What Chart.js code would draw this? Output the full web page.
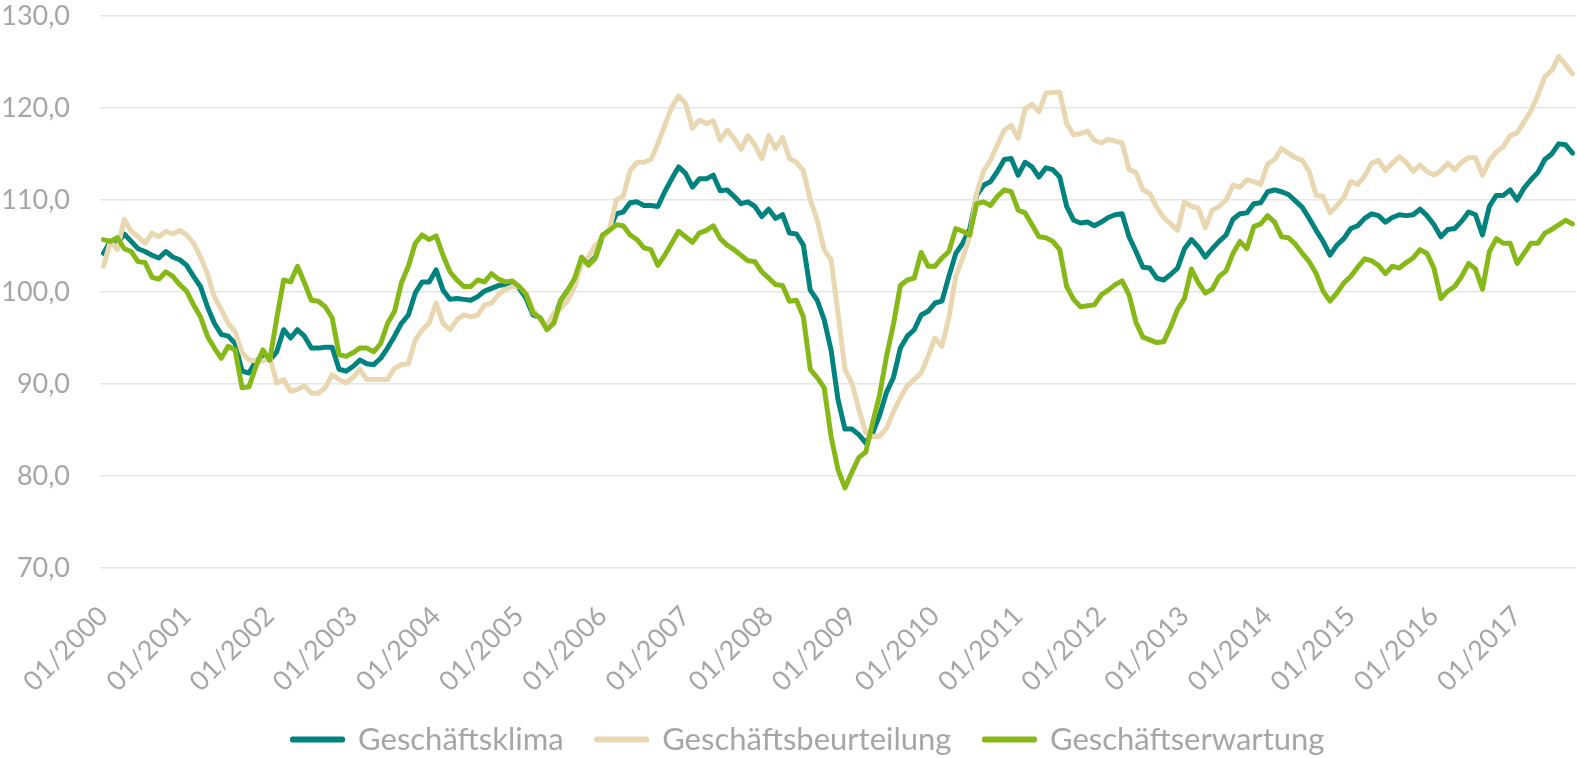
<!DOCTYPE html>
<html>
<head>
<meta charset="utf-8">
<script src="https://cdn.jsdelivr.net/npm/chart.js@4"></script>
<style>
  html, body { margin: 0; padding: 0; background: #ffffff; }
  #wrap { width: 1577px; height: 758px; position: relative; overflow: hidden; }
</style>
</head>
<body>
<div id="wrap"><canvas id="c" width="1577" height="758"></canvas></div>
<script>
// Monthly categories 01/2000 .. 09/2017
const startYear = 2000;
const monthCount = 213;
const categories = [];
for (let k = 0; k < monthCount; k++) {
  const y = startYear + Math.floor(k / 12);
  const m = (k % 12) + 1;
  categories.push((m < 10 ? '0' : '') + m + '/' + y);
}

const seriesNames = ['Geschäftsklima', 'Geschäftsbeurteilung', 'Geschäftserwartung'];

const geschaeftsklima = [
104.2,105.5,105.3,106.3,105.5,104.7,104.4,104.0,103.7,104.4,103.8,103.5,
102.9,101.7,100.6,98.4,96.6,95.4,95.2,94.4,91.4,91.2,92.5,93.0,
92.6,93.5,95.9,95.0,95.9,95.2,93.9,93.9,94.0,94.0,91.6,91.4,
91.9,92.6,92.2,92.1,92.8,93.9,95.2,96.6,97.5,99.9,101.1,101.1,
102.4,100.2,99.2,99.3,99.2,99.1,99.5,100.1,100.4,100.7,100.8,101.0,
100.4,99.3,97.5,97.2,96.1,97.0,99.1,100.2,101.3,103.5,103.1,103.8,
106.0,106.7,108.5,108.7,109.7,109.8,109.4,109.4,109.3,110.9,112.3,113.6,
112.9,111.4,112.3,112.3,112.7,111.0,111.1,110.4,109.6,109.8,109.3,108.2,
109.0,108.0,108.4,106.4,106.3,105.1,100.2,99.1,97.0,93.7,88.3,85.1,
85.1,84.5,83.6,84.7,86.6,89.1,90.7,93.9,95.2,95.9,97.5,97.9,
98.8,99.0,101.7,104.2,105.3,106.8,110.5,111.6,112.0,113.1,114.4,114.5,
112.7,114.1,113.6,112.5,113.5,113.3,112.5,109.3,107.8,107.5,107.6,107.2,
107.6,108.1,108.4,108.5,106.0,104.4,102.7,102.6,101.5,101.3,101.9,102.6,
104.7,105.7,104.9,103.8,104.7,105.5,106.2,107.9,108.5,108.6,109.6,109.7,
110.9,111.1,110.9,110.6,109.9,109.2,108.0,106.7,105.5,104.0,105.1,105.8,
106.9,107.2,108.0,108.5,108.3,107.6,108.1,108.4,108.3,108.4,109.0,108.3,
107.3,106.0,106.8,106.9,107.7,108.7,108.4,106.2,109.3,110.5,110.5,111.1,
110.0,111.3,112.2,113.0,114.4,115.0,116.1,116.0,115.1
];

const geschaeftsbeurteilung = [
102.8,105.5,104.6,107.9,106.6,106.0,105.3,106.4,106.0,106.6,106.3,106.7,
106.2,105.3,103.8,102.0,99.5,98.1,96.6,95.7,93.4,92.6,92.5,92.5,
93.0,90.1,90.5,89.2,89.4,89.8,89.0,89.0,89.6,91.0,90.5,90.1,
90.7,91.6,90.5,90.5,90.5,90.5,91.7,92.1,92.2,94.8,95.9,96.6,
98.8,96.6,95.9,97.0,97.5,97.3,97.5,98.6,98.8,99.7,100.3,100.6,
100.6,99.9,98.1,97.0,96.4,97.7,98.2,99.1,100.6,103.1,103.8,105.1,
105.8,106.7,110.0,110.4,113.2,114.1,114.1,114.4,116.1,118.1,120.1,121.3,
120.5,117.8,118.7,118.3,118.6,116.5,117.6,116.7,115.5,117.0,116.0,114.5,
117.0,115.6,116.8,114.5,114.1,113.2,110.0,107.8,104.6,103.5,97.7,91.6,
90.1,87.3,84.7,84.3,84.3,85.2,87.0,88.5,89.8,90.5,91.2,93.0,
95.0,94.1,97.2,101.7,103.7,106.0,110.7,113.1,114.3,116.0,117.6,118.1,
116.7,119.9,120.4,119.6,121.6,121.7,121.7,118.3,117.1,117.2,117.5,116.5,
116.2,116.6,116.4,116.2,113.3,113.0,111.1,110.7,109.2,108.1,107.4,106.7,
109.8,109.3,109.1,107.0,108.9,109.3,110.0,111.6,111.4,112.2,112.0,111.7,
113.9,114.4,115.6,115.1,114.6,114.3,113.1,110.5,110.4,108.6,109.4,110.3,
112.0,111.7,112.6,114.0,114.3,113.2,114.0,114.7,114.1,113.1,113.8,113.1,
112.7,113.2,114.0,113.3,114.1,114.6,114.6,112.7,114.3,115.2,115.8,117.0,
117.3,118.5,119.7,121.4,123.4,124.1,125.6,124.7,123.7
];

const geschaeftserwartung = [
105.7,105.5,105.9,104.7,104.4,103.3,103.2,101.6,101.4,102.2,101.7,100.8,
100.1,98.6,97.3,95.2,93.9,92.8,94.1,93.7,89.6,89.7,91.9,93.7,
92.6,97.1,101.3,101.1,102.8,101.0,99.1,99.0,98.4,97.2,93.2,93.0,
93.4,93.9,93.9,93.5,94.4,96.6,97.9,101.0,102.8,105.3,106.2,105.7,
106.1,104.0,102.2,101.3,100.6,100.6,101.3,101.1,102.0,101.4,101.1,101.2,
100.6,99.7,97.7,97.2,95.9,96.6,99.1,100.2,101.5,103.8,102.9,103.7,
106.2,106.7,107.3,107.2,106.2,105.7,104.8,104.6,102.9,104.0,105.3,106.6,
106.0,105.4,106.4,106.7,107.2,105.8,105.1,104.6,104.0,103.4,103.3,102.2,
101.5,100.8,100.7,99.0,99.1,97.3,91.6,90.7,89.6,84.3,80.7,78.7,
80.4,82.0,82.6,85.8,88.8,93.0,96.5,100.7,101.3,101.5,104.3,102.8,
102.8,103.7,104.4,106.9,106.6,106.2,109.6,109.8,109.4,110.4,111.1,110.9,
108.9,108.6,107.3,106.0,105.9,105.5,104.6,100.6,99.2,98.4,98.5,98.6,
99.7,100.2,100.8,101.2,99.7,96.7,95.1,94.8,94.5,94.6,96.2,98.1,
99.3,102.5,101.0,99.9,100.3,101.7,102.3,104.2,105.5,104.7,107.1,107.4,
108.3,107.6,106.0,105.9,105.2,104.2,103.3,102.0,100.1,99.0,99.9,101.0,
101.7,102.7,103.6,103.4,102.9,102.0,102.8,102.6,103.2,103.7,104.6,104.2,
102.6,99.3,100.1,100.6,101.7,103.1,102.5,100.3,104.4,105.8,105.3,105.3,
103.1,104.2,105.3,105.3,106.4,106.8,107.3,107.8,107.4
];

const yMin = 70, yMax = 130, yStep = 10;

const colors = ['#00837f', '#e8d7b0', '#86b918'];
const FONT = 'Lato, "Open Sans", sans-serif';
const GREY = '#a6a6a6';

const seriesData = [geschaeftsklima, geschaeftsbeurteilung, geschaeftserwartung];
const datasets = seriesNames.map((name, i) => ({
  label: name,
  data: seriesData[i],
  borderColor: colors[i],
  backgroundColor: colors[i],
  borderWidth: 5,
  pointRadius: 0,
  pointHoverRadius: 0,
  tension: 0,
  borderJoinStyle: 'round',
  borderCapStyle: 'round',
  order: 2 - i
}));

new Chart(document.getElementById('c'), {
  type: 'line',
  data: { labels: categories, datasets },
  options: {
    responsive: false,
    animation: false,
    events: [],
    layout: { padding: { left: 0, right: -40, top: 0, bottom: -7 } },
    plugins: {
      tooltip: { enabled: false },
      legend: {
        position: 'bottom',
        labels: {
          boxWidth: 50,
          boxHeight: 1,
          padding: 33,
          color: GREY,
          font: { family: FONT, size: 31 },
          sort: (a, b) => a.datasetIndex - b.datasetIndex
        }
      }
    },
    scales: {
      x: {
        type: 'category',
        offset: true,
        grid: { display: false, drawTicks: false },
        border: { display: false },
        afterFit: (s) => { s.height = 123; s.paddingLeft = 0; s.paddingRight = 0; },
        ticks: {
          autoSkip: false,
          maxRotation: 45,
          minRotation: 45,
          padding: 32,
          color: GREY,
          font: { family: FONT, size: 27 },
          callback: function (val, idx) {
            const lbl = categories[idx];
            return lbl.startsWith('01/') ? lbl : '';
          }
        }
      },
      y: {
        min: yMin,
        max: yMax,
        grid: { color: '#e6e6e6', lineWidth: 1.5, drawTicks: false },
        border: { display: false },
        afterFit: (s) => { s.width = 100; s.paddingTop = 16; s.paddingBottom = 16; },
        ticks: {
          stepSize: yStep,
          padding: 30,
          color: GREY,
          font: { family: FONT, size: 27 },
          callback: (v) => v.toFixed(1).replace('.', ',')
        }
      },
      yRight: {
        position: 'right',
        display: true,
        grid: { display: false, drawTicks: false },
        border: { display: false },
        ticks: { display: false },
        afterFit: (s) => { s.width = 41; s.paddingTop = 0; s.paddingBottom = 0; }
      }
    }
  }
});
</script>
</body>
</html>
